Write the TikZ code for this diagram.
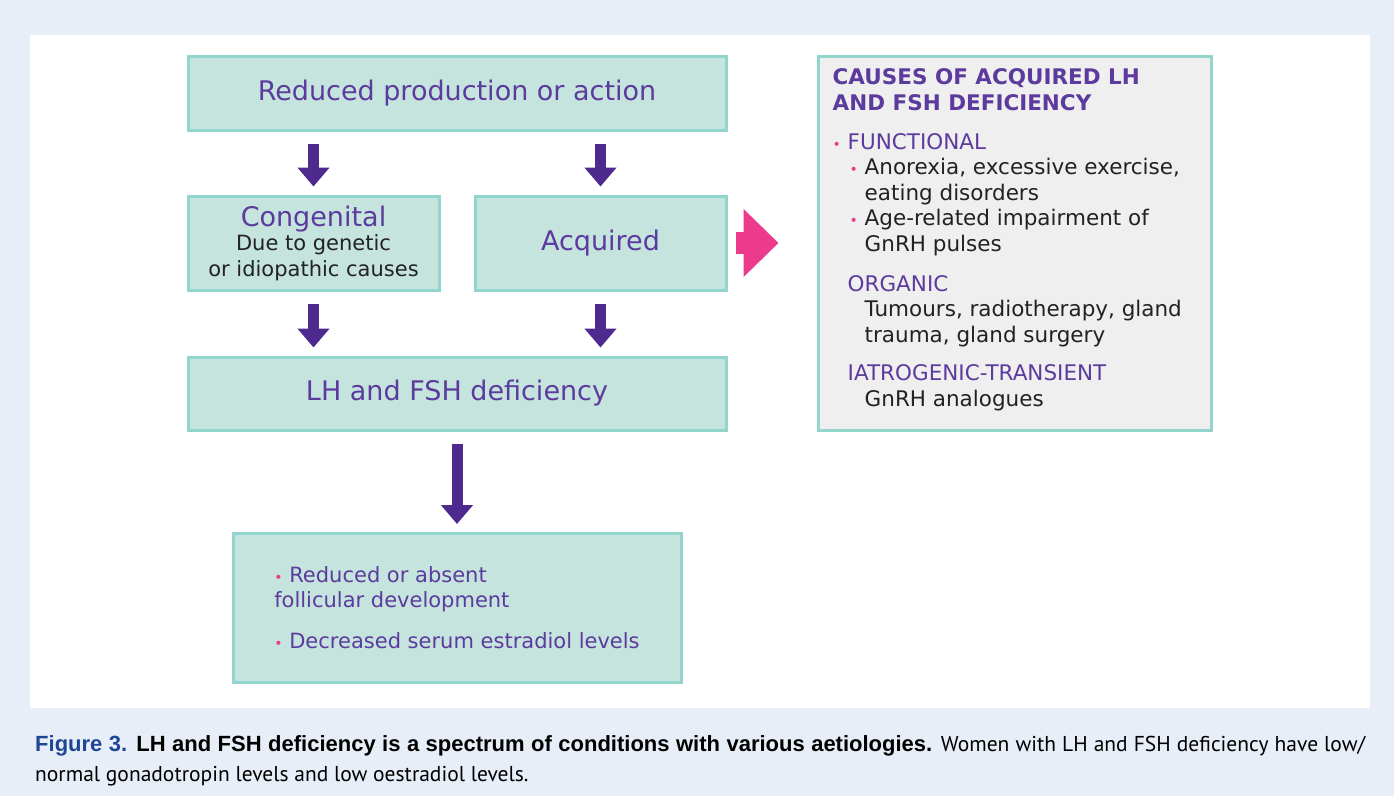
\documentclass[tikz,border=0pt]{standalone}
\usepackage{fontspec}
\setmainfont{DejaVu Sans}
\newfontfamily\leyendafont{PT Sans}
\newfontfamily\negritafont{Liberation Sans}
\usetikzlibrary{arrows.meta}
\definecolor{fondo}{HTML}{E8EEF7}
\definecolor{relleno}{HTML}{C5E4DE}
\definecolor{borde}{HTML}{92D5CC}
\definecolor{gris}{HTML}{EEEFEE}
\definecolor{morado}{HTML}{5C3A9E}
\definecolor{flecha}{HTML}{4E2A8E}
\definecolor{rosa}{HTML}{EC3B8D}
\definecolor{azul}{HTML}{1F4597}
\definecolor{texto}{HTML}{222222}
\newcommand{\pto}{\makebox[15pt][l]{\textcolor{rosa}{\fontsize{14}{14}\selectfont •}}}
\begin{document}
\begin{tikzpicture}[x=1pt,y=-1pt,
	caja/.style={draw=borde, line width=3pt, fill=relleno, inner sep=0pt, align=center},
	bajada/.style={draw=flecha, line width=11pt, -{Triangle[length=19pt,width=31pt]}, shorten <=12pt, shorten >=8pt},
	grande/.style={text=morado, font=\fontsize{27}{32}\selectfont},
	chico/.style={text=texto, font=\fontsize{21.5}{25.4}\selectfont}]
	\useasboundingbox (0,0) rectangle (1394,796);
	\fill[fondo] (0,0) rectangle (1394,796); % Fondo
	\fill[white] (30,35) rectangle (1370,708); % Panel
	
	% Cajas
	\node[caja, grande, minimum width=538pt, minimum height=74pt] (reducida) at (457,93) {\raisebox{-5pt}{Reduced production or action}};
	\node[caja, grande, minimum width=251pt, minimum height=94pt] (congenita) at (313.5,243) {\raisebox{-3pt}{Congenital}\\[-5pt]{\color{texto}\fontsize{21}{25}\selectfont Due to genetic}\\[-6pt]{\color{texto}\fontsize{21}{25}\selectfont or idiopathic causes}};
	\node[caja, grande, minimum width=251pt, minimum height=94pt] (adquirida) at (600.5,243) {\raisebox{-3pt}{Acquired}};
	\node[caja, grande, minimum width=538pt, minimum height=73pt] (deficit) at (457,393.5) {\raisebox{-5pt}{LH and FSH deficiency}};
	\node[caja, text=morado, font=\fontsize{21}{25}\selectfont, align=left, minimum width=448pt, minimum height=149pt] (efectos) at (457,608) {\pto Reduced or absent\\follicular development\\[16pt]\pto Decreased serum estradiol levels};
	\node[caja, fill=gris, minimum width=393pt, minimum height=374pt] (causas) at (1014.5,243) {};
	\node[chico, anchor=north west, inner sep=0pt, align=left] (listacausas) at ([shift={(16,14)}]causas.north west) {%
		\textcolor{morado}{\bfseries CAUSES OF ACQUIRED LH}\\
		\textcolor{morado}{\bfseries AND FSH DEFICIENCY}\\[14pt]
		\pto\textcolor{morado}{FUNCTIONAL}\\
		\hspace*{17pt}\pto Anorexia, excessive exercise,\\
		\hspace*{32pt}eating disorders\\
		\hspace*{17pt}\pto Age-related impairment of\\
		\hspace*{32pt}GnRH pulses\\[15pt]
		\hspace*{15pt}\textcolor{morado}{ORGANIC}\\
		\hspace*{32pt}Tumours, radiotherapy, gland\\
		\hspace*{32pt}trauma, gland surgery\\[13pt]
		\hspace*{15pt}\textcolor{morado}{IATROGENIC-TRANSIENT}\\
		\hspace*{32pt}GnRH analogues};
	
	% Flechas
	\draw[bajada] (reducida.south -| congenita.north) -- (congenita.north);
	\draw[bajada] (reducida.south -| adquirida.north) -- (adquirida.north);
	\draw[bajada] (congenita.south) -- (congenita.south |- deficit.north);
	\draw[bajada] (adquirida.south) -- (adquirida.south |- deficit.north);
	\draw[bajada] (deficit.south) -- (efectos.north);
	\draw[rosa, line width=22pt, -{Triangle[length=35pt,width=66pt]}, shorten <=8pt, shorten >=38pt] (adquirida.east) -- (causas.west);
	
	% Leyenda
	\node[anchor=north west, inner sep=0pt, text width=1330pt, align=justify, font=\leyendafont\fontsize{21.5}{30}\selectfont] (leyenda) at (35,735) {{\negritafont\bfseries\fontsize{22}{30}\selectfont\textcolor{azul}{Figure 3.} LH and FSH deficiency is a spectrum of conditions with various aetiologies.} Women with LH and FSH deficiency have low/\linebreak normal gonadotropin levels and low oestradiol levels.};
\end{tikzpicture}
\end{document}
